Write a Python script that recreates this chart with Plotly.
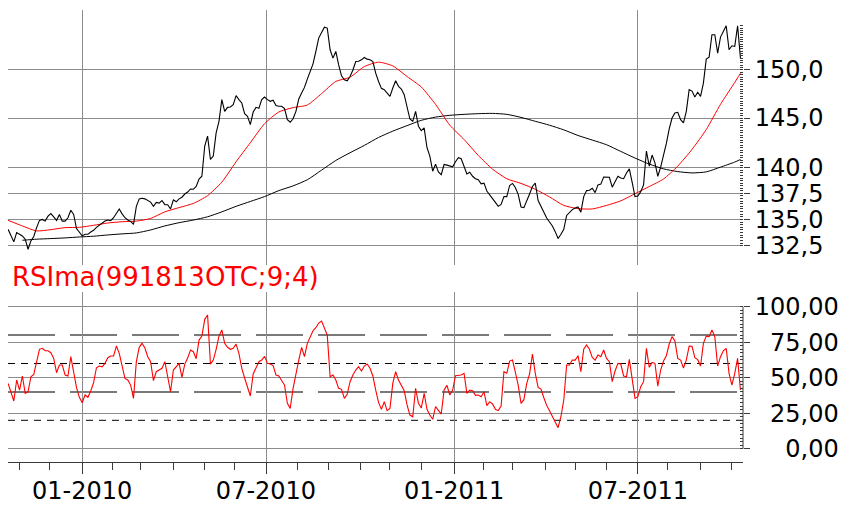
import math
import numpy as np
import pandas as pd
import plotly.graph_objects as go

# ---------------- data ----------------
START = "2009-10-21"          # first trading day shown, samples every 2 business days

price = [
    134.06, 133.38, 132.88, 133.75, 133.59, 133.44, 133.13, 132.19, 132.97, 133.38,
    134.22, 134.91, 135.00, 134.84, 135.31, 135.56, 135.25, 134.91, 135.47, 134.84,
    134.84, 135.16, 135.88, 135.47, 134.13, 133.81, 133.44, 133.59, 133.59, 133.81,
    133.97, 134.25, 134.47, 134.63, 134.84, 134.94, 134.88, 135.16, 135.56, 136.00,
    135.53, 135.16, 134.94, 134.81, 134.53, 136.25, 136.97, 137.03, 136.97, 136.81,
    136.66, 136.25, 136.63, 136.56, 136.81, 136.41, 136.41, 136.00, 136.88, 136.69,
    136.97, 137.13, 137.44, 137.63, 137.93, 137.90, 138.17, 138.90, 139.17, 142.17,
    143.17, 140.83, 141.17, 143.50, 144.67, 146.90, 145.69, 146.10, 146.14, 146.38,
    147.31, 146.90, 146.55, 145.45, 145.17, 144.33, 145.62, 146.10, 146.00, 146.90,
    147.17, 146.90, 146.72, 146.83, 146.28, 146.21, 146.21, 145.97, 144.83, 144.57,
    144.93, 145.69, 146.97, 147.59, 148.17, 149.03, 149.83, 150.65, 151.97, 153.41,
    154.02, 154.60, 154.50, 152.15, 151.26, 151.97, 150.54, 149.38, 148.97, 148.86,
    149.31, 150.00, 150.90, 150.93, 151.08, 151.33, 151.15, 151.08, 150.90, 149.66,
    148.79, 148.07, 147.93, 147.52, 147.24, 148.10, 148.86, 148.28, 148.00, 147.41,
    146.14, 144.90, 144.67, 145.69, 144.17, 143.73, 144.00, 142.00, 141.17, 139.67,
    140.37, 139.60, 139.33, 140.33, 140.27, 140.17, 140.10, 140.60, 141.00, 140.90,
    140.17, 139.40, 139.57, 139.17, 138.93, 138.83, 138.43, 138.50, 137.73, 137.41,
    137.00, 136.63, 136.25, 136.44, 137.19, 137.19, 138.27, 138.47, 138.07, 137.41,
    136.19, 136.13, 136.88, 137.44, 138.17, 138.50, 136.81, 136.19, 135.63, 135.13,
    134.75, 134.38, 133.84, 133.19, 133.59, 134.06, 135.38, 135.69, 135.94, 136.09,
    136.19, 135.69, 137.19, 137.77, 137.80, 138.00, 137.57, 138.33, 138.40, 139.10,
    139.10, 139.07, 138.10, 138.57, 139.17, 139.00, 138.93, 139.50, 139.90, 138.57,
    137.19, 137.25, 137.67, 138.33, 141.67, 140.17, 141.27, 140.50, 139.17, 140.07,
    141.17, 142.43, 143.90, 145.00, 145.52, 145.59, 144.83, 144.50, 145.69, 147.93,
    147.79, 147.17, 147.66, 147.24, 148.62, 151.15, 151.36, 153.77, 153.77, 151.79,
    153.52, 154.13, 154.74, 152.15, 152.58, 152.51, 154.74, 151.26,
]

rsi = [
    46.0, 39.0, 33.6, 48.4, 41.3, 51.2, 39.0, 40.1, 50.7, 52.3,
    62.4, 70.0, 70.7, 69.0, 69.0, 67.6, 63.6, 53.5, 58.9, 58.9,
    51.9, 51.2, 64.8, 54.2, 43.0, 36.2, 32.4, 37.8, 36.2, 40.6,
    46.5, 57.0, 58.2, 57.7, 60.1, 64.1, 65.3, 65.3, 72.3, 67.1,
    58.2, 49.5, 48.4, 44.8, 35.4, 61.3, 71.4, 74.2, 70.9, 64.8,
    61.3, 47.9, 54.2, 55.4, 56.6, 61.3, 49.5, 40.1, 55.4, 58.2,
    60.1, 50.2, 59.6, 63.8, 69.5, 68.3, 63.4, 76.5, 79.3, 91.1,
    94.1, 59.6, 62.4, 70.0, 79.3, 83.6, 74.2, 71.4, 70.0, 70.7,
    73.7, 67.1, 56.6, 49.8, 43.7, 37.1, 52.6, 56.8, 61.3, 62.4,
    65.0, 60.1, 59.6, 58.5, 51.9, 51.2, 48.4, 44.8, 31.9, 28.4,
    42.5, 53.1, 62.4, 71.4, 64.8, 74.2, 78.2, 83.1, 85.2, 88.5,
    89.9, 85.4, 80.0, 50.7, 51.9, 48.4, 42.5, 41.8, 35.4, 38.3,
    47.2, 51.9, 55.4, 57.7, 54.7, 58.2, 59.6, 56.6, 51.2, 41.3,
    32.6, 27.7, 33.1, 26.8, 28.4, 46.0, 54.2, 48.4, 45.1, 40.8,
    30.8, 23.7, 22.5, 42.5, 31.9, 28.6, 39.0, 27.7, 23.7, 20.7,
    29.6, 26.8, 24.4, 41.3, 44.6, 37.8, 41.3, 51.4, 51.9, 51.9,
    53.1, 39.0, 41.3, 40.8, 37.6, 37.8, 36.6, 40.1, 30.3, 33.1,
    31.5, 27.7, 26.8, 30.0, 54.2, 53.1, 61.7, 62.4, 54.0, 44.8,
    31.9, 34.5, 46.0, 52.6, 66.7, 53.1, 43.2, 42.0, 35.9, 30.5,
    26.8, 22.5, 18.3, 14.8, 22.5, 34.3, 58.9, 58.9, 62.4, 62.4,
    65.5, 54.2, 70.0, 73.0, 70.0, 64.3, 62.4, 66.0, 64.8, 69.5,
    63.6, 61.3, 47.2, 54.7, 60.1, 59.6, 51.2, 50.7, 62.9, 49.5,
    35.4, 36.6, 43.7, 47.2, 70.7, 57.3, 60.8, 60.1, 44.1, 55.4,
    61.7, 65.5, 73.7, 78.9, 75.8, 63.6, 62.4, 56.8, 62.4, 72.3,
    72.1, 64.1, 62.7, 58.2, 74.2, 79.3, 78.9, 83.6, 78.9, 58.2,
    64.8, 69.0, 70.7, 53.1, 44.8, 53.1, 63.6, 41.3,
]

# moving averages, sampled every 10 business days (+ last day)
ma_fast = [
    134.91, 134.38, 133.91, 134.03, 134.22, 134.25, 134.44, 134.66, 134.78, 134.84,
    135.09, 135.72, 136.13, 136.53, 137.28, 138.60, 140.60, 142.50, 144.43, 145.62,
    146.07, 146.34, 147.52, 148.79, 149.24, 150.36, 150.83, 150.43, 149.31, 148.21,
    146.41, 144.27, 142.83, 141.23, 139.87, 138.93, 138.47, 137.90, 137.16, 136.34,
    136.03, 136.00, 136.34, 136.78, 137.47, 138.17, 138.90, 140.17, 141.83, 143.83,
    146.41, 148.69, 149.66,
]
ma_slow = [
    None, 133.03, 133.13, 133.19, 133.25, 133.34, 133.41, 133.53, 133.63, 133.72,
    134.00, 134.38, 134.69, 134.94, 135.25, 135.72, 136.25, 136.72, 137.19, 137.77,
    138.23, 138.83, 139.77, 140.73, 141.50, 142.23, 143.03, 143.67, 144.23, 144.77,
    145.10, 145.28, 145.38, 145.45, 145.48, 145.38, 145.07, 144.67, 144.27, 143.80,
    143.23, 142.77, 142.30, 141.63, 140.97, 140.37, 139.90, 139.63, 139.50, 139.60,
    140.07, 140.57, 140.83,
]

price_ticks = [132.5, 135.0, 137.5, 140.0, 145.0, 150.0]
price_ticktext = ["132,5", "135,0", "137,5", "140,0", "145,0", "150,0"]
rsi_ticks = [0, 25, 50, 75, 100]
NB = "\u00a0"
rsi_ticktext = [NB * 4 + "0,00", NB * 2 + "25,00", NB * 2 + "50,00", NB * 2 + "75,00", "100,00"]
rsi_long_levels = [80, 40]
rsi_short_levels = [60, 20]
x_label_months = ["2010-01", "2010-07", "2011-01", "2011-07"]
x_label_text = ["01-2010", "07-2010", "01-2011", "07-2011"]
title_text = "RSIma(991813OTC;9;4)"

x_range = ["2009-10-20 22:00", "2011-10-12 19:00"]
price_range = [130.73, 156.48]
price_spine = [132.3, 154.8]
rsi_range = [-9.37, 110.35]
rsi_spine = [0, 100]

# ---------------- figure ----------------
price_dates = pd.bdate_range(START, periods=len(price), freq="2B")
ma_dates = pd.bdate_range(START, periods=len(ma_fast) - 1, freq="10B").append(price_dates[-1:])
# first trading day of every month (weekend dates fall inside the range breaks)
month_ticks = pd.date_range("2009-11-01", "2011-10-31", freq="BMS")
label_ticks = [d for d in month_ticks if d.strftime("%Y-%m") in x_label_months]

FONT = "DejaVu Sans"
GRID = "#8c8c8c"
AX = "#3a3a3a"
RED = "#ff0000"

fig = go.Figure()
fig.add_trace(go.Scatter(x=ma_dates, y=ma_slow, mode="lines", line=dict(color="black", width=1, shape="spline", smoothing=0.6),
                         xaxis="x", yaxis="y", hoverinfo="skip"))
fig.add_trace(go.Scatter(x=ma_dates, y=ma_fast, mode="lines", line=dict(color=RED, width=1, shape="spline", smoothing=0.6),
                         xaxis="x", yaxis="y", hoverinfo="skip"))
fig.add_trace(go.Scatter(x=price_dates, y=price, mode="lines", line=dict(color="black", width=1.1),
                         xaxis="x", yaxis="y"))
fig.add_trace(go.Scatter(x=price_dates, y=rsi, mode="lines", line=dict(color=RED, width=1.1),
                         xaxis="x2", yaxis="y2"))

breaks = [dict(bounds=["sat", "mon"])]
shapes = [
    dict(type="line", xref="x domain", x0=1, x1=1, yref="y",
         y0=math.log10(price_spine[0]), y1=math.log10(price_spine[1]), line=dict(color=AX, width=1)),
    dict(type="line", xref="x2 domain", x0=1, x1=1, yref="y2",
         y0=rsi_spine[0], y1=rsi_spine[1], line=dict(color=AX, width=1)),
]
for lv in rsi_long_levels:
    shapes.append(dict(type="line", xref="x2 domain", x0=0, x1=1, yref="y2", y0=lv, y1=lv, layer="below",
                       line=dict(color="#7a7a7a", width=2, dash="47px,15px")))
for lv in rsi_short_levels:
    shapes.append(dict(type="line", xref="x2 domain", x0=0, x1=1, yref="y2", y0=lv, y1=lv, layer="below",
                       line=dict(color="black", width=1, dash="7px,6px")))

# the page body has an 8px margin, so the figure is laid out 8px in from the window corner
fig.update_layout(
    width=832, height=497,
    margin=dict(l=0, r=97, t=2, b=43, autoexpand=False),
    paper_bgcolor="white", plot_bgcolor="white",
    showlegend=False,
    font=dict(family=FONT, size=24, color="black"),
    xaxis=dict(domain=[0, 1], anchor="y", type="date", range=x_range, rangebreaks=breaks,
               tickmode="array", tickvals=label_ticks, showticklabels=False, ticks="",
               showgrid=True, gridcolor=GRID, gridwidth=1, showline=False, zeroline=False),
    xaxis2=dict(domain=[0, 1], anchor="y2", matches="x", type="date", range=x_range, rangebreaks=breaks,
                tickmode="array", tickvals=label_ticks, ticktext=x_label_text,
                ticks="outside", ticklen=11, tickwidth=1, tickcolor=AX,
                ticklabelstandoff=-4,
                tickfont=dict(family=FONT, size=24, color="black"),
                showgrid=True, gridcolor=GRID, gridwidth=1,
                showline=True, linecolor=AX, linewidth=1, zeroline=False,
                minor=dict(tickmode="array", tickvals=list(month_ticks), ticks="outside", ticklen=7,
                           tickwidth=1, tickcolor=AX, showgrid=False)),
    yaxis=dict(domain=[0.43584, 1], anchor="x", side="right", type="log",
               range=[math.log10(price_range[0]), math.log10(price_range[1])],
               tickmode="array", tickvals=price_ticks, ticktext=price_ticktext,
               ticks="outside", ticklen=6, tickwidth=1, tickcolor=AX,
               tickfont=dict(family=FONT, size=24, color="black"),
               showgrid=True, gridcolor=GRID, gridwidth=1, showline=False, zeroline=False,
               minor=dict(tickmode="array", tickvals=list(np.arange(132.5, 154.8, 0.25)), ticks="inside",
                          ticklen=3, tickwidth=1, tickcolor=AX, showgrid=False)),
    yaxis2=dict(domain=[0, 0.37611], anchor="x2", side="right", range=rsi_range,
                tickmode="array", tickvals=rsi_ticks, ticktext=rsi_ticktext,
                ticks="outside", ticklen=6, tickwidth=1, tickcolor=AX,
                tickfont=dict(family=FONT, size=24, color="black"),
                showgrid=True, gridcolor=GRID, gridwidth=1, showline=False, zeroline=False,
                minor=dict(tickmode="array", tickvals=list(np.arange(0, 100.1, 2.5)), ticks="inside",
                           ticklen=3, tickwidth=1, tickcolor=AX, showgrid=False)),
    shapes=shapes,
    annotations=[dict(text=title_text, xref="paper", yref="paper", x=0.0027, y=0.4082,
                      xanchor="left", yanchor="middle", showarrow=False,
                      font=dict(family=FONT, size=26, color=RED))],
)

fig.write_html("out.html")
